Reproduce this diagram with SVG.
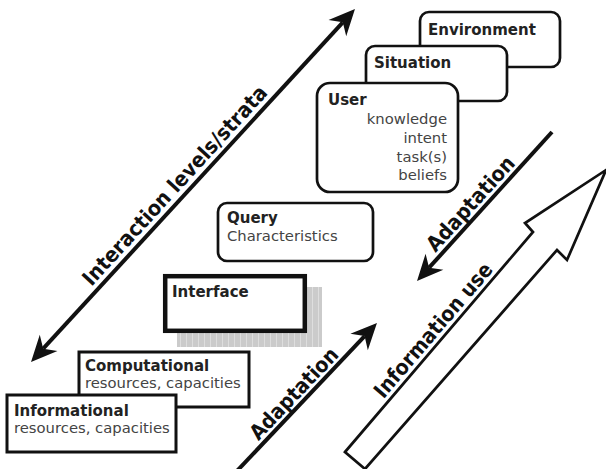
<svg xmlns="http://www.w3.org/2000/svg" width="606" height="469" viewBox="0 0 606 469">
<style>
.box{fill:#fff;stroke:#111;stroke-width:2.7}
.sq{fill:#fff;stroke:#111;stroke-width:3}
.t{font-family:"DejaVu Sans",Verdana,sans-serif;font-weight:bold;font-size:15px;fill:#222}
.b{font-family:"DejaVu Sans",Verdana,sans-serif;font-size:14.8px;fill:#444}
.lbl{font-family:"DejaVu Sans",Verdana,sans-serif;font-weight:bold;fill:#111;text-anchor:middle;font-size:21px}
.ln{stroke:#111;stroke-width:4;fill:none}
</style>
<defs>
<marker id="head" markerUnits="userSpaceOnUse" viewBox="0 0 28 26" markerWidth="28" markerHeight="26" refX="10" refY="13" orient="auto-start-reverse" overflow="visible">
<path d="M28,13 L2,1 L10,13 L2,25 Z" fill="#111"/>
</marker>
<pattern id="stripes" patternUnits="userSpaceOnUse" width="6" height="10">
<rect width="6" height="10" fill="#cbcbcb"/>
<rect width="1" height="10" fill="#dedede"/>
</pattern>
</defs>
<rect width="606" height="469" fill="#fff"/>
<g id="connectors">
<line class="ln" x1="43.2" y1="348.7" x2="342.8" y2="22.3" marker-start="url(#head)" marker-end="url(#head)"/>
<line class="ln" x1="236" y1="472" x2="364.6" y2="336.1" marker-end="url(#head)"/>
<line class="ln" x1="552" y1="132" x2="429.1" y2="267.7" marker-end="url(#head)"/>
<polygon id="info-use-arrow" points="345,452 533,232 525,223 606,170 567,260 557,250 365,469" fill="#fff" stroke="#111" stroke-width="2.7" stroke-linejoin="miter"/>
<text class="lbl" transform="translate(184.4,194.4) rotate(-47.5)" y="-6" textLength="262" lengthAdjust="spacingAndGlyphs">Interaction levels/strata</text>
<text class="lbl" transform="translate(302.7,402) rotate(-46.5)" y="-5" textLength="118" lengthAdjust="spacingAndGlyphs">Adaptation</text>
<text class="lbl" transform="translate(479.5,212) rotate(-47.8)" y="-5" textLength="120" lengthAdjust="spacingAndGlyphs">Adaptation</text>
<text class="lbl" transform="translate(442.5,338) rotate(-49.5)" y="-5" textLength="170" lengthAdjust="spacingAndGlyphs">Information use</text>
</g>
<g id="environment">
<rect class="box" x="420" y="12" width="140" height="55" rx="9"/>
<text class="t" x="428" y="35">Environment</text>
</g>
<g id="situation">
<rect class="box" x="366" y="46" width="141" height="55" rx="9"/>
<text class="t" x="374" y="68">Situation</text>
</g>
<g id="user">
<rect class="box" x="317" y="83" width="141" height="109" rx="13"/>
<text class="t" x="328" y="105">User</text>
<g class="b" text-anchor="end">
<text x="447" y="124">knowledge</text>
<text x="447" y="143">intent</text>
<text x="447" y="162">task(s)</text>
<text x="447" y="180">beliefs</text>
</g>
</g>
<g id="query">
<rect class="box" x="218" y="203" width="155" height="58" rx="9"/>
<text class="t" x="227" y="223">Query</text>
<text class="b" x="227" y="241" font-size="14">Characteristics</text>
</g>
<g id="interface">
<rect x="177" y="287" width="145" height="60" fill="url(#stripes)"/>
<rect x="165.2" y="276.2" width="139.6" height="54.6" fill="#fff" stroke="#111" stroke-width="4.5"/>
<text class="t" x="172" y="297">Interface</text>
</g>
<g id="computational">
<rect class="sq" x="79" y="352" width="170" height="55"/>
<text class="t" x="85" y="371">Computational</text>
<text class="b" x="85" y="388">resources, capacities</text>
</g>
<g id="informational">
<rect class="sq" x="7" y="395" width="169" height="57"/>
<text class="t" x="14" y="416">Informational</text>
<text class="b" x="14" y="433">resources, capacities</text>
</g>
</svg>
